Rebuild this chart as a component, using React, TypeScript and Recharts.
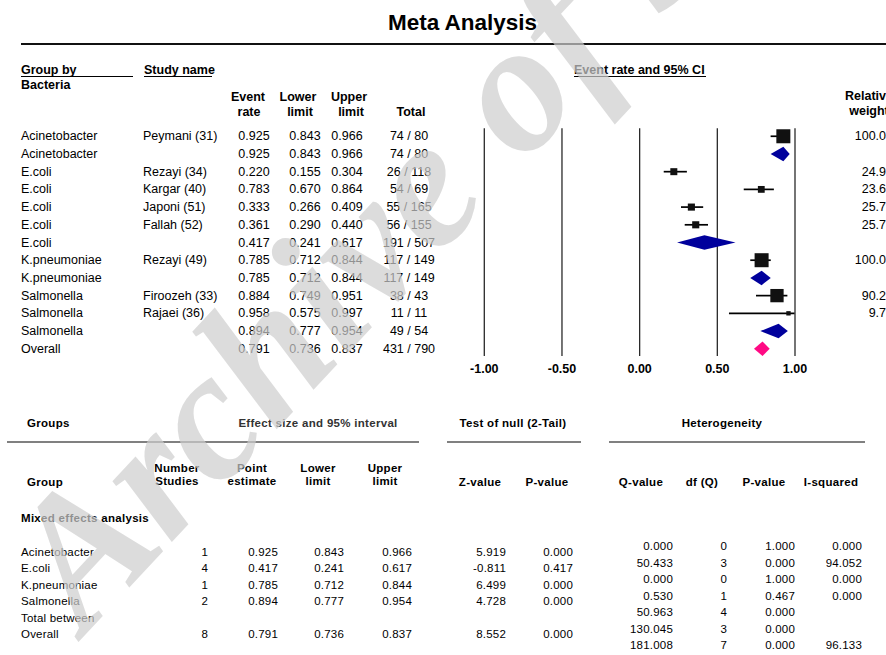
import React from 'react'
import {
  CartesianGrid,
  ReferenceArea,
  ReferenceLine,
  Scatter,
  ScatterChart,
  XAxis,
  YAxis,
} from 'recharts'

// forest plot rows (top to bottom)
const rowGroup = [
  'Acinetobacter', 'Acinetobacter', 'E.coli', 'E.coli', 'E.coli', 'E.coli', 'E.coli',
  'K.pneumoniae', 'K.pneumoniae', 'Salmonella', 'Salmonella', 'Salmonella', 'Overall',
]
const rowStudy = [
  'Peymani (31)', '', 'Rezayi (34)', 'Kargar (40)', 'Japoni (51)', 'Fallah (52)', '',
  'Rezayi (49)', '', 'Firoozeh (33)', 'Rajaei (36)', '', '',
]
const rowKind = [
  'study', 'group', 'study', 'study', 'study', 'study', 'group',
  'study', 'group', 'study', 'study', 'group', 'overall',
]
const eventRate = [0.925, 0.925, 0.22, 0.783, 0.333, 0.361, 0.417, 0.785, 0.785, 0.884, 0.958, 0.894, 0.791]
const lowerLimit = [0.843, 0.843, 0.155, 0.67, 0.266, 0.29, 0.241, 0.712, 0.712, 0.749, 0.575, 0.777, 0.736]
const upperLimit = [0.966, 0.966, 0.304, 0.864, 0.409, 0.44, 0.617, 0.844, 0.844, 0.951, 0.997, 0.954, 0.837]
const totals = [
  '74 / 80', '74 / 80', '26 / 118', '54 / 69', '55 / 165', '56 / 155', '191 / 507',
  '117 / 149', '117 / 149', '38 / 43', '11 / 11', '49 / 54', '431 / 790',
]
const relWeight = [100.0, null, 24.95, 23.6, 25.72, 25.73, null, 100.0, null, 90.27, 9.73, null, null]
const xTicks = [-1, -0.5, 0, 0.5, 1]

// summary table
const sumGroup = ['Acinetobacter', 'E.coli', 'K.pneumoniae', 'Salmonella', 'Total between', 'Overall']
const sumStudies = ['1', '4', '1', '2', '', '8']
const sumPoint = ['0.925', '0.417', '0.785', '0.894', '', '0.791']
const sumLower = ['0.843', '0.241', '0.712', '0.777', '', '0.736']
const sumUpper = ['0.966', '0.617', '0.844', '0.954', '', '0.837']
const sumZ = ['5.919', '-0.811', '6.499', '4.728', '', '8.552']
const sumP = ['0.000', '0.417', '0.000', '0.000', '', '0.000']
const hetQ = ['0.000', '50.433', '0.000', '0.530', '50.963', '130.045', '181.008']
const hetDf = ['0', '3', '0', '1', '4', '3', '7']
const hetP = ['1.000', '0.000', '1.000', '0.467', '0.000', '0.000', '0.000']
const hetI2 = ['0.000', '94.052', '0.000', '0.000', '', '', '96.133']

const FONT = '"Liberation Sans", Arial, sans-serif'
const ROW0 = 136.3
const ROW_H = 17.71
const rowY = (i: number) => ROW0 + i * ROW_H

type Align = 'left' | 'center' | 'right'
const T = ({
  x, y, children, align = 'left', bold = false, size = 12.5, color = '#000', ls = 0,
}: {
  x: number; y: number; children: React.ReactNode; align?: Align; bold?: boolean
  size?: number; color?: string; ls?: number
}) => {
  const tx = align === 'left' ? 0 : align === 'center' ? -50 : -100
  return (
    <div
      style={{
        position: 'absolute', left: x, top: y, transform: `translate(${tx}%, -50%)`,
        whiteSpace: 'nowrap', fontSize: size, fontWeight: bold ? 700 : 400, lineHeight: 1,
        color, letterSpacing: ls,
      }}
    >
      {children}
    </div>
  )
}

const Rule = ({ x1, x2, y, h = 1.2, color = '#000' }: { x1: number; x2: number; y: number; h?: number; color?: string }) => (
  <div style={{ position: 'absolute', left: x1, top: y, width: x2 - x1, height: h, background: color }} />
)

const studyPoints = rowKind
  .map((k, i) => ({ k, x: eventRate[i], row: i, w: relWeight[i] ?? 0 }))
  .filter((p) => p.k === 'study')
const summaryRows = rowKind.map((k, i) => ({ k, i })).filter((r) => r.k !== 'study')

const StudySquare = (props: any) => {
  const { cx, cy, payload } = props
  const s = Math.max(4, 14 * Math.sqrt(payload.w / 100))
  return <rect x={cx - s / 2} y={cy - s / 2} width={s} height={s} fill="#111" />
}

const diamond = (est: number, lo: number, hi: number, fill: string) => (p: any) => {
  const { x, y, width, height } = p
  const mx = x + (width * (est - lo)) / (hi - lo)
  const my = y + height / 2
  return (
    <polygon
      points={`${x},${my} ${mx},${y} ${x + width},${my} ${mx},${y + height}`}
      fill={fill}
    />
  )
}

const ForestPlot = () => (
  <ScatterChart
    width={886}
    height={400}
    margin={{ top: 128.3, right: 91, bottom: 14, left: 484.3 }}
    style={{ position: 'absolute', left: 0, top: 0 }}
  >
    <CartesianGrid horizontal={false} stroke="#2a2a2a" strokeWidth={1.3} />
    <XAxis
      type="number"
      dataKey="x"
      domain={[-1, 1]}
      ticks={xTicks}
      tickFormatter={(v: number) => v.toFixed(2)}
      axisLine={false}
      tickLine={false}
      height={30}
      tick={{ fill: '#000', fontSize: 12.5, fontWeight: 700, fontFamily: FONT }}
      allowDataOverflow
    />
    <YAxis type="number" dataKey="row" domain={[-0.45, 12.41]} reversed hide width={0} allowDataOverflow />
    {studyPoints.map((p) => (
      <ReferenceLine
        key={`ci-${p.row}`}
        segment={[
          { x: lowerLimit[p.row], y: p.row },
          { x: upperLimit[p.row], y: p.row },
        ]}
        stroke="#000"
        strokeWidth={1.7}
      />
    ))}
    {summaryRows.map((r) => (
      <ReferenceArea
        key={`dm-${r.i}`}
        x1={lowerLimit[r.i]}
        x2={upperLimit[r.i]}
        y1={r.i - 0.41}
        y2={r.i + 0.41}
        shape={diamond(eventRate[r.i], lowerLimit[r.i], upperLimit[r.i], r.k === 'overall' ? '#ff0a84' : '#00009c')}
      />
    ))}
    <Scatter data={studyPoints} shape={StudySquare} isAnimationActive={false} />
  </ScatterChart>
)

const SUM_ROW0 = 552.5
const SUM_H = 16.5
const HET_ROW0 = 547
const HET_H = 16.5

export default function App() {
  return (
    <div
      style={{
        position: 'absolute', left: 0, top: 0, width: 886, height: 655, overflow: 'hidden',
        background: '#fff', fontFamily: FONT, color: '#000',
      }}
    >
      <ForestPlot />

      {/* title */}
      <T x={462.5} y={22.5} align="center" bold size={22.5}>Meta Analysis</T>
      <Rule x1={21} x2={886} y={42.5} h={2.5} color="#111" />

      {/* forest headers */}
      <T x={21} y={70} bold size={12.5}>Group by</T>
      <Rule x1={21} x2={133} y={76.3} />
      <T x={21} y={85} bold size={12.5}>Bacteria</T>
      <T x={144} y={70} bold size={12.5}>Study name</T>
      <Rule x1={144} x2={212} y={76.3} />
      <T x={248} y={97} align="center" bold>Event</T>
      <T x={249} y={111.5} align="center" bold>rate</T>
      <T x={298} y={97} align="center" bold>Lower</T>
      <T x={300} y={111.5} align="center" bold>limit</T>
      <T x={349} y={97} align="center" bold>Upper</T>
      <T x={351} y={111.5} align="center" bold>limit</T>
      <T x={411} y={111.5} align="center" bold>Total</T>
      <T x={574} y={70} bold>Event rate and 95% CI</T>
      <Rule x1={574} x2={706} y={76.3} />
      <T x={869} y={96} align="center" bold>Relative</T>
      <T x={869} y={110.5} align="center" bold>weight</T>

      {rowGroup.map((g, i) => (
        <React.Fragment key={`r-${i}`}>
          <T x={21} y={rowY(i)}>{g}</T>
          <T x={143} y={rowY(i)}>{rowStudy[i]}</T>
          <T x={254} y={rowY(i)} align="center">{eventRate[i].toFixed(3)}</T>
          <T x={305} y={rowY(i)} align="center">{lowerLimit[i].toFixed(3)}</T>
          <T x={347} y={rowY(i)} align="center">{upperLimit[i].toFixed(3)}</T>
          <T x={409} y={rowY(i)} align="center">{totals[i]}</T>
          {relWeight[i] != null && (
            <T x={893} y={rowY(i)} align="right">{(relWeight[i] as number).toFixed(2)}</T>
          )}
        </React.Fragment>
      ))}

      {/* summary table */}
      <T x={27} y={424} bold size={11.5} ls={0.3}>Groups</T>
      <T x={318} y={424} align="center" bold size={11.5} ls={0.3} color="#333">Effect size and 95% interval</T>
      <T x={513} y={424} align="center" bold size={11.5} ls={0.3}>Test of null (2-Tail)</T>
      <T x={722} y={424} align="center" bold size={11.5} ls={0.3}>Heterogeneity</T>
      <Rule x1={7} x2={419} y={441} h={2} color="#808080" />
      <Rule x1={447} x2={581} y={441} h={2} color="#808080" />
      <Rule x1={609} x2={865} y={441} h={2} color="#808080" />

      <T x={27} y={483} bold size={11.5} ls={0.3}>Group</T>
      <T x={177} y={469} align="center" bold size={11.5} ls={0.3}>Number</T>
      <T x={177} y={482} align="center" bold size={11.5} ls={0.3}>Studies</T>
      <T x={252} y={469} align="center" bold size={11.5} ls={0.3}>Point</T>
      <T x={252} y={482} align="center" bold size={11.5} ls={0.3}>estimate</T>
      <T x={318} y={469} align="center" bold size={11.5} ls={0.3}>Lower</T>
      <T x={318} y={482} align="center" bold size={11.5} ls={0.3}>limit</T>
      <T x={385} y={469} align="center" bold size={11.5} ls={0.3}>Upper</T>
      <T x={385} y={482} align="center" bold size={11.5} ls={0.3}>limit</T>
      <T x={480} y={483} align="center" bold size={11.5} ls={0.3}>Z-value</T>
      <T x={547} y={483} align="center" bold size={11.5} ls={0.3}>P-value</T>
      <T x={641} y={483} align="center" bold size={11.5} ls={0.3}>Q-value</T>
      <T x={702} y={483} align="center" bold size={11.5} ls={0.3}>df (Q)</T>
      <T x={764} y={483} align="center" bold size={11.5} ls={0.3}>P-value</T>
      <T x={831} y={483} align="center" bold size={11.5} ls={0.3}>I-squared</T>
      <T x={21} y={519} bold size={11.5} ls={0.3}>Mixed effects analysis</T>

      {sumGroup.map((g, i) => {
        const y = SUM_ROW0 + i * SUM_H
        return (
          <React.Fragment key={`s-${i}`}>
            <T x={21} y={y} size={11.5} ls={0.2}>{g}</T>
            <T x={208} y={y} align="right" size={11.5} ls={0.2}>{sumStudies[i]}</T>
            <T x={278} y={y} align="right" size={11.5} ls={0.2}>{sumPoint[i]}</T>
            <T x={344} y={y} align="right" size={11.5} ls={0.2}>{sumLower[i]}</T>
            <T x={412} y={y} align="right" size={11.5} ls={0.2}>{sumUpper[i]}</T>
            <T x={506} y={y} align="right" size={11.5} ls={0.2}>{sumZ[i]}</T>
            <T x={573} y={y} align="right" size={11.5} ls={0.2}>{sumP[i]}</T>
          </React.Fragment>
        )
      })}
      {hetQ.map((q, i) => {
        const y = HET_ROW0 + i * HET_H
        return (
          <React.Fragment key={`h-${i}`}>
            <T x={673} y={y} align="right" size={11.5} ls={0.2}>{q}</T>
            <T x={727} y={y} align="right" size={11.5} ls={0.2}>{hetDf[i]}</T>
            <T x={795} y={y} align="right" size={11.5} ls={0.2}>{hetP[i]}</T>
            <T x={862} y={y} align="right" size={11.5} ls={0.2}>{hetI2[i]}</T>
          </React.Fragment>
        )
      })}

      {/* watermark */}
      <svg
        width={886}
        height={655}
        style={{ position: 'absolute', left: 0, top: 0, pointerEvents: 'none' }}
      >
        <text
          x={85}
          y={635}
          transform="rotate(-47 85 635)"
          fontFamily='"Liberation Serif", serif'
          fontStyle="italic"
          fontWeight="bold"
          fontSize={185}
          fill="rgb(205,205,205)"
          fillOpacity={0.7}
        >
          Archive of SID
        </text>
      </svg>
    </div>
  )
}
